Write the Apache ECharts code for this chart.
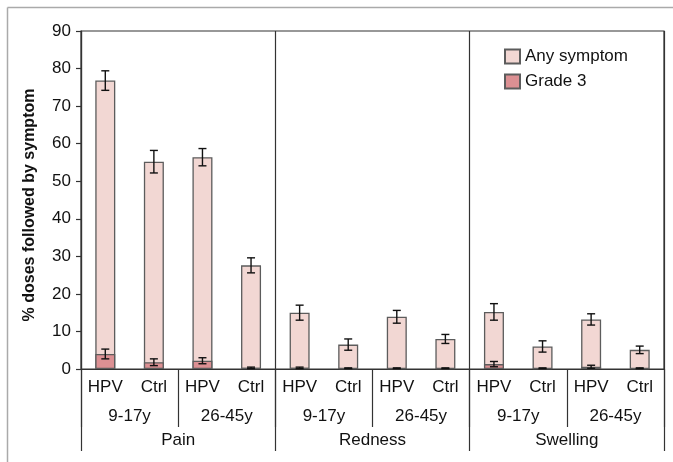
<!DOCTYPE html>
<html>
<head>
<meta charset="utf-8">
<title>Doses followed by symptom</title>
<script src="https://cdn.jsdelivr.net/npm/echarts@6/dist/echarts.min.js"></script>
<style>
  html, body { margin: 0; padding: 0; background: #fff; }
  #chart { width: 673px; height: 462px; }
</style>
</head>
<body>
<div id="chart"></div>
<script>
// Bars: vaccine arm within each age group, grouped by symptom
var categories = ['HPV', 'Ctrl', 'HPV', 'Ctrl', 'HPV', 'Ctrl', 'HPV', 'Ctrl', 'HPV', 'Ctrl', 'HPV', 'Ctrl'];
var ageGroups = ['9-17y', '26-45y', '9-17y', '26-45y', '9-17y', '26-45y'];
var symptoms = ['Pain', 'Redness', 'Swelling'];

// % of doses followed by the symptom, with half-width of the error bar
var anySymptom = [76.8, 55.2, 56.4, 27.6, 15.0, 6.5, 13.9, 8.0, 15.2, 6.0, 13.2, 5.1];
var anySymptomErr = [2.6, 3.0, 2.3, 2.0, 2.0, 1.5, 1.7, 1.2, 2.2, 1.5, 1.5, 1.0];
var grade3 = [4.0, 1.8, 2.2, 0.3, 0.3, 0.2, 0.2, 0.2, 1.3, 0.2, 0.6, 0.2];
var grade3Err = [1.3, 0.9, 0.8, 0.2, 0.2, 0.1, 0.1, 0.1, 0.7, 0.1, 0.4, 0.1];

var yTicks = { min: 0, max: 90, interval: 10 };

var FONT = '"Liberation Sans", Arial, sans-serif';
var INK = '#111';
var LINE = '#333';
var FS = 17;

function errorData(values, errs) {
  return values.map(function (v, i) { return [i, v - errs[i], v + errs[i]]; });
}

function renderError(params, api) {
  var x = api.value(0);
  var lo = api.coord([x, api.value(1)]);
  var hi = api.coord([x, api.value(2)]);
  var half = 4;
  var style = { stroke: INK, lineWidth: 1.4 };
  return {
    type: 'group',
    children: [
      { type: 'line', shape: { x1: lo[0], y1: lo[1], x2: hi[0], y2: hi[1] }, style: style },
      { type: 'line', shape: { x1: lo[0] - half, y1: lo[1], x2: lo[0] + half, y2: lo[1] }, style: style },
      { type: 'line', shape: { x1: hi[0] - half, y1: hi[1], x2: hi[0] + half, y2: hi[1] }, style: style }
    ]
  };
}

var chart = echarts.init(document.getElementById('chart'), null, { renderer: 'canvas' });

chart.setOption({
  animation: false,
  backgroundColor: '#fff',
  textStyle: { fontFamily: FONT, color: INK },
  grid: {
    left: 81, right: 9, top: 31, bottom: 93,
    show: true, borderColor: LINE, borderWidth: 1.2, backgroundColor: 'transparent'
  },
  legend: {
    orient: 'vertical',
    left: 504, top: 48, padding: 0,
    icon: 'rect',
    itemWidth: 15, itemHeight: 14, itemGap: 8,
    textStyle: { fontFamily: FONT, fontSize: FS, color: INK },
    data: ['Any symptom', 'Grade 3']
  },
  graphic: [
    { type: 'line', shape: { x1: 7.5, y1: 7.5, x2: 673, y2: 7.5 }, style: { stroke: '#aaa', lineWidth: 1.5 } },
    { type: 'line', shape: { x1: 7.5, y1: 7.5, x2: 7.5, y2: 462 }, style: { stroke: '#aaa', lineWidth: 1.5 } },
    {
      type: 'text', x: 30, y: 205, rotation: Math.PI / 2,
      style: {
        text: '% doses followed by symptom',
        font: 'bold 16px ' + FONT, fill: INK,
        align: 'center', verticalAlign: 'middle'
      }
    }
  ],
  xAxis: [
    {
      type: 'category', data: categories, position: 'bottom',
      axisLine: { show: true, lineStyle: { color: LINE, width: 1.2 } },
      axisTick: { show: false },
      axisLabel: { interval: 0, fontSize: FS, color: INK, fontFamily: FONT, margin: 10 }
    },
    {
      type: 'category', data: ageGroups, position: 'bottom',
      axisLine: { show: false },
      axisTick: { show: true, interval: 0, length: 58, lineStyle: { color: LINE, width: 1.2 } },
      axisLabel: { interval: 0, fontSize: FS, color: INK, fontFamily: FONT, margin: 39 }
    },
    {
      type: 'category', data: symptoms, position: 'bottom',
      axisLine: { show: false },
      axisTick: { show: true, interval: 0, length: 82, lineStyle: { color: LINE, width: 1.2 } },
      axisLabel: { interval: 0, fontSize: FS, color: INK, fontFamily: FONT, margin: 63 },
      splitLine: { show: true, interval: 0, lineStyle: { color: LINE, width: 1.2 } }
    }
  ],
  yAxis: {
    type: 'value', min: yTicks.min, max: yTicks.max, interval: yTicks.interval,
    axisLine: { show: true, lineStyle: { color: LINE, width: 1.2 } },
    axisTick: { show: true, inside: false, length: 5, lineStyle: { color: LINE, width: 1.2 } },
    axisLabel: { fontSize: FS, color: INK, fontFamily: FONT, margin: 10 },
    splitLine: { show: false }
  },
  series: [
    {
      name: 'Any symptom', type: 'bar', xAxisIndex: 0,
      data: anySymptom, barWidth: 20, barGap: '-100%',
      itemStyle: { color: '#F2D7D3', borderColor: '#5c5c5c', borderWidth: 1.3 },
      z: 2
    },
    {
      name: 'Grade 3', type: 'bar', xAxisIndex: 0,
      data: grade3, barWidth: 20, barGap: '-100%',
      itemStyle: { color: '#DC9093', borderColor: '#5c5c5c', borderWidth: 1.3 },
      z: 3
    },
    {
      name: 'Any symptom error', type: 'custom', xAxisIndex: 0,
      data: errorData(anySymptom, anySymptomErr),
      renderItem: renderError, z: 5, silent: true
    },
    {
      name: 'Grade 3 error', type: 'custom', xAxisIndex: 0,
      data: errorData(grade3, grade3Err),
      renderItem: renderError, z: 5, silent: true
    }
  ]
});
</script>
</body>
</html>
